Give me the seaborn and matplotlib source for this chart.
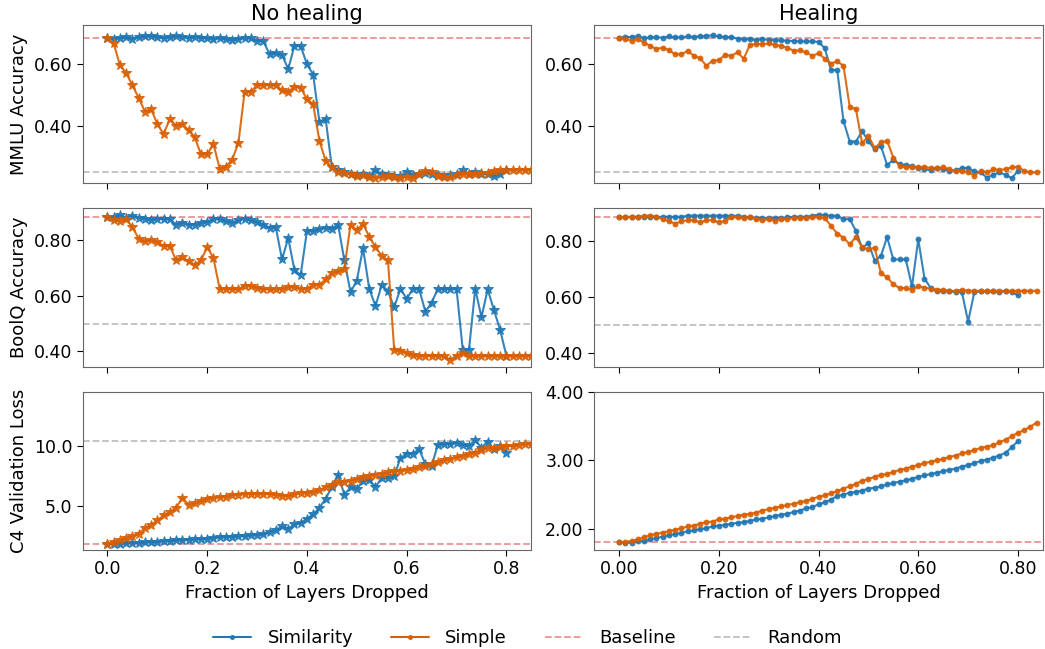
import numpy as np
import pandas as pd
import matplotlib
matplotlib.use("Agg")
import matplotlib.pyplot as plt
from matplotlib.lines import Line2D
import seaborn as sns

# ---------- data ----------
N_LAYERS = 80  # fraction = layers dropped / 80

mmlu_sim_noheal = [
    0.685, 0.683, 0.685, 0.688, 0.681, 0.688, 0.690, 0.690, 0.688, 0.684,
    0.689, 0.690, 0.688, 0.686, 0.688, 0.686, 0.684, 0.681, 0.684, 0.681,
    0.678, 0.681, 0.684, 0.684, 0.676, 0.675, 0.632, 0.636, 0.630, 0.584,
    0.660, 0.658, 0.600, 0.566, 0.413, 0.423, 0.265, 0.258, 0.251, 0.245,
    0.240, 0.245, 0.237, 0.256, 0.243, 0.239, 0.237, 0.237, 0.251, 0.240,
    0.243, 0.247, 0.243, 0.240, 0.237, 0.240, 0.243, 0.256, 0.243, 0.251,
    0.245, 0.243, 0.237, 0.243, 0.256,
]
mmlu_simple_noheal = [
    0.685, 0.667, 0.596, 0.571, 0.531, 0.491, 0.446, 0.454, 0.406, 0.373,
    0.422, 0.400, 0.406, 0.386, 0.363, 0.307, 0.307, 0.341, 0.261, 0.267,
    0.290, 0.344, 0.510, 0.510, 0.532, 0.532, 0.532, 0.532, 0.515, 0.510,
    0.527, 0.523, 0.486, 0.470, 0.352, 0.286, 0.265, 0.251, 0.248, 0.243,
    0.237, 0.240, 0.235, 0.232, 0.235, 0.237, 0.235, 0.232, 0.235, 0.232,
    0.243, 0.254, 0.251, 0.237, 0.235, 0.235, 0.240, 0.243, 0.243, 0.243,
    0.247, 0.247, 0.254, 0.256, 0.256, 0.256, 0.258, 0.256, 0.258,
]
mmlu_sim_heal = [
    0.686, 0.688, 0.688, 0.691, 0.684, 0.687, 0.687, 0.686, 0.690, 0.687,
    0.687, 0.690, 0.688, 0.690, 0.692, 0.693, 0.690, 0.688, 0.688, 0.683,
    0.680, 0.682, 0.678, 0.681, 0.679, 0.678, 0.677, 0.676, 0.675, 0.674,
    0.674, 0.674, 0.672, 0.652, 0.581, 0.581, 0.416, 0.349, 0.349, 0.382,
    0.351, 0.324, 0.335, 0.273, 0.289, 0.276, 0.272, 0.270, 0.263, 0.259,
    0.256, 0.263, 0.259, 0.254, 0.256, 0.263, 0.263, 0.252, 0.249, 0.232,
    0.241, 0.249, 0.241, 0.230, 0.254,
]
mmlu_simple_heal = [
    0.684, 0.681, 0.676, 0.681, 0.670, 0.659, 0.649, 0.654, 0.645, 0.632,
    0.632, 0.643, 0.627, 0.619, 0.595, 0.611, 0.613, 0.630, 0.627, 0.638,
    0.618, 0.663, 0.665, 0.665, 0.667, 0.663, 0.659, 0.654, 0.643, 0.645,
    0.638, 0.627, 0.635, 0.618, 0.602, 0.609, 0.595, 0.462, 0.454, 0.343,
    0.368, 0.328, 0.346, 0.351, 0.297, 0.270, 0.265, 0.267, 0.265, 0.267,
    0.263, 0.263, 0.265, 0.259, 0.254, 0.254, 0.249, 0.238, 0.254, 0.249,
    0.259, 0.257, 0.259, 0.265, 0.267, 0.254, 0.249, 0.249,
]

boolq_sim_noheal = [
    0.884, 0.884, 0.890, 0.881, 0.888, 0.881, 0.878, 0.872, 0.878, 0.876,
    0.876, 0.857, 0.864, 0.857, 0.857, 0.864, 0.866, 0.876, 0.876, 0.869,
    0.864, 0.872, 0.878, 0.872, 0.866, 0.857, 0.845, 0.848, 0.731, 0.808,
    0.692, 0.676, 0.833, 0.833, 0.840, 0.845, 0.842, 0.857, 0.728, 0.613,
    0.655, 0.772, 0.625, 0.563, 0.640, 0.616, 0.559, 0.625, 0.589, 0.625,
    0.625, 0.543, 0.575, 0.625, 0.625, 0.625, 0.625, 0.406, 0.406, 0.625,
    0.523, 0.623, 0.549, 0.477, 0.384,
]
boolq_simple_noheal = [
    0.884, 0.872, 0.869, 0.876, 0.848, 0.806, 0.796, 0.802, 0.794, 0.780,
    0.780, 0.728, 0.740, 0.724, 0.712, 0.728, 0.776, 0.736, 0.625, 0.625,
    0.625, 0.623, 0.637, 0.635, 0.628, 0.625, 0.623, 0.623, 0.625, 0.631,
    0.631, 0.625, 0.625, 0.640, 0.640, 0.659, 0.683, 0.688, 0.698, 0.857,
    0.836, 0.860, 0.812, 0.776, 0.743, 0.728, 0.406, 0.402, 0.394, 0.387,
    0.382, 0.384, 0.384, 0.382, 0.382, 0.370, 0.384, 0.394, 0.382, 0.382,
    0.382, 0.382, 0.382, 0.382, 0.382, 0.382, 0.382, 0.382, 0.382,
]
boolq_sim_heal = [
    0.884, 0.886, 0.886, 0.886, 0.886, 0.886, 0.886, 0.886, 0.886, 0.886,
    0.886, 0.890, 0.890, 0.890, 0.890, 0.890, 0.890, 0.890, 0.890, 0.890,
    0.886, 0.884, 0.882, 0.882, 0.882, 0.882, 0.882, 0.884, 0.886, 0.886,
    0.886, 0.890, 0.894, 0.892, 0.890, 0.890, 0.878, 0.878, 0.836, 0.774,
    0.794, 0.730, 0.746, 0.814, 0.734, 0.734, 0.734, 0.638, 0.806, 0.666,
    0.632, 0.620, 0.620, 0.620, 0.618, 0.618, 0.512, 0.618, 0.620, 0.620,
    0.620, 0.618, 0.620, 0.618, 0.606,
]
boolq_simple_heal = [
    0.884, 0.884, 0.886, 0.884, 0.890, 0.890, 0.886, 0.878, 0.870, 0.862,
    0.870, 0.874, 0.874, 0.866, 0.874, 0.874, 0.866, 0.872, 0.884, 0.884,
    0.882, 0.884, 0.878, 0.874, 0.878, 0.872, 0.878, 0.878, 0.882, 0.882,
    0.882, 0.884, 0.884, 0.882, 0.854, 0.826, 0.812, 0.788, 0.814, 0.778,
    0.770, 0.776, 0.686, 0.670, 0.646, 0.632, 0.632, 0.626, 0.638, 0.634,
    0.630, 0.626, 0.626, 0.622, 0.622, 0.626, 0.622, 0.622, 0.622, 0.622,
    0.622, 0.622, 0.622, 0.622, 0.622, 0.622, 0.622, 0.622,
]

c4_sim_noheal = [
    1.81, 1.81, 1.81, 1.86, 1.86, 1.89, 1.92, 1.94, 1.94, 2.00,
    2.03, 2.08, 2.08, 2.14, 2.17, 2.19, 2.22, 2.31, 2.33, 2.36,
    2.39, 2.42, 2.44, 2.50, 2.53, 2.58, 2.78, 2.92, 3.25, 3.06,
    3.42, 3.53, 3.89, 4.25, 4.81, 5.56, 6.58, 7.58, 5.92, 6.53,
    6.39, 7.08, 7.14, 6.58, 7.30, 7.30, 7.50, 8.97, 9.36, 9.36,
    9.72, 8.47, 8.33, 10.08, 10.14, 10.14, 10.25, 10.08, 10.00, 10.47,
    9.86, 10.36, 9.72, 10.00, 9.44,
]
c4_simple_noheal = [
    1.81, 1.94, 2.08, 2.31, 2.42, 2.64, 3.11, 3.39, 3.75, 4.17,
    4.44, 4.81, 5.64, 5.08, 5.19, 5.36, 5.56, 5.64, 5.69, 5.75,
    5.89, 5.92, 5.97, 5.97, 5.97, 5.97, 5.97, 5.92, 5.83, 5.83,
    5.97, 6.03, 6.03, 6.17, 6.31, 6.53, 6.75, 6.94, 7.00, 7.08,
    7.22, 7.42, 7.50, 7.58, 7.64, 7.78, 7.86, 7.92, 7.97, 8.08,
    8.19, 8.33, 8.47, 8.61, 8.81, 8.89, 9.03, 9.17, 9.31, 9.44,
    9.64, 9.81, 9.86, 9.92, 9.97, 10.00, 10.08, 10.14, 10.14,
]
c4_sim_heal = [
    1.81, 1.80, 1.80, 1.82, 1.83, 1.85, 1.87, 1.89, 1.91, 1.93,
    1.94, 1.97, 1.98, 2.00, 2.01, 2.04, 2.05, 2.06, 2.08, 2.09,
    2.10, 2.12, 2.14, 2.15, 2.17, 2.19, 2.21, 2.22, 2.25, 2.27,
    2.30, 2.32, 2.36, 2.39, 2.43, 2.48, 2.50, 2.53, 2.54, 2.56,
    2.59, 2.60, 2.62, 2.65, 2.67, 2.69, 2.71, 2.73, 2.76, 2.78,
    2.80, 2.82, 2.84, 2.86, 2.88, 2.91, 2.93, 2.96, 2.99, 3.01,
    3.04, 3.07, 3.11, 3.19, 3.28,
]
c4_simple_heal = [
    1.81, 1.81, 1.83, 1.85, 1.88, 1.91, 1.93, 1.95, 1.97, 1.99,
    2.01, 2.04, 2.05, 2.08, 2.10, 2.11, 2.14, 2.15, 2.17, 2.19,
    2.21, 2.22, 2.24, 2.27, 2.29, 2.31, 2.33, 2.35, 2.37, 2.39,
    2.41, 2.44, 2.47, 2.49, 2.52, 2.55, 2.59, 2.62, 2.66, 2.70,
    2.73, 2.76, 2.79, 2.80, 2.83, 2.86, 2.88, 2.91, 2.93, 2.96,
    2.98, 3.00, 3.02, 3.05, 3.07, 3.10, 3.12, 3.15, 3.18, 3.20,
    3.22, 3.26, 3.30, 3.35, 3.40, 3.44, 3.49, 3.55,
]

baseline = {"mmlu": 0.685, "boolq": 0.884, "c4": 1.81}
random_level = {"mmlu": 0.25, "boolq": 0.50, "c4": 10.37}

col_titles = ["No healing", "Healing"]
row_labels = ["MMLU Accuracy", "BoolQ Accuracy", "C4 Validation Loss"]
row_keys = ["mmlu", "boolq", "c4"]

panels = {
    ("mmlu", 0): (mmlu_sim_noheal, mmlu_simple_noheal),
    ("mmlu", 1): (mmlu_sim_heal, mmlu_simple_heal),
    ("boolq", 0): (boolq_sim_noheal, boolq_simple_noheal),
    ("boolq", 1): (boolq_sim_heal, boolq_simple_heal),
    ("c4", 0): (c4_sim_noheal, c4_simple_noheal),
    ("c4", 1): (c4_sim_heal, c4_simple_heal),
}

ylims = {
    ("mmlu", 0): (0.213, 0.726), ("mmlu", 1): (0.213, 0.726),
    ("boolq", 0): (0.345, 0.915), ("boolq", 1): (0.352, 0.916),
    ("c4", 0): (1.3, 14.55), ("c4", 1): (1.70, 4.0),
}
yticks = {
    ("mmlu", 0): [0.4, 0.6], ("mmlu", 1): [0.4, 0.6],
    ("boolq", 0): [0.4, 0.6, 0.8], ("boolq", 1): [0.4, 0.6, 0.8],
    ("c4", 0): [5.0, 10.0], ("c4", 1): [2.0, 3.0, 4.0],
}
yfmt = {
    ("mmlu", 0): "{:.2f}", ("mmlu", 1): "{:.2f}",
    ("boolq", 0): "{:.2f}", ("boolq", 1): "{:.2f}",
    ("c4", 0): "{:.1f}", ("c4", 1): "{:.2f}",
}

SIM_COLOR = "#1f77b4"
SIMPLE_COLOR = "#d95f02"
BASE_COLOR = "#eb9394"
RAND_COLOR = "#bfbfbf"

sns.set_style("ticks", {"axes.edgecolor": "0.4"})
plt.rcParams["font.family"] = ["DejaVu Sans"]
plt.rcParams["text.color"] = "black"
plt.rcParams["axes.labelcolor"] = "black"
plt.rcParams["xtick.color"] = "black"
plt.rcParams["ytick.color"] = "black"

fig, axes = plt.subplots(3, 2, figsize=(10.45, 6.49), dpi=100)
fig.subplots_adjust(left=0.079, right=0.998, top=0.961, bottom=0.153,
                    wspace=0.14, hspace=0.158)

for r, key in enumerate(row_keys):
    for c in range(2):
        ax = axes[r, c]
        sim_vals, simple_vals = panels[(key, c)]
        marker = "*" if c == 0 else "."
        ms = 7 if c == 0 else 7
        df_sim = pd.DataFrame({"x": np.arange(len(sim_vals)) / N_LAYERS, "y": sim_vals})
        df_simple = pd.DataFrame({"x": np.arange(len(simple_vals)) / N_LAYERS, "y": simple_vals})
        ax.axhline(baseline[key], color=BASE_COLOR, linestyle="--", linewidth=1.3, zorder=1)
        ax.axhline(random_level[key], color=RAND_COLOR, linestyle="--", linewidth=1.3, zorder=1)
        for df, col in [(df_sim, SIM_COLOR), (df_simple, SIMPLE_COLOR)]:
            sns.lineplot(data=df, x="x", y="y", ax=ax, color=col, marker=marker,
                         markersize=ms, markeredgecolor=col, markerfacecolor=col,
                         markeredgewidth=0.7, linewidth=1.5, alpha=0.9, zorder=3)
        ax.set_xlim(-0.05, 0.85)
        ax.set_ylim(*ylims[(key, c)])
        ax.set_xticks([0.0, 0.2, 0.4, 0.6, 0.8])
        ax.set_yticks(yticks[(key, c)])
        ax.set_yticklabels([yfmt[(key, c)].format(v) for v in yticks[(key, c)]])
        ax.tick_params(labelsize=12.5, length=4, width=0.8)
        if r == 2:
            if c == 0:
                ax.set_xticklabels(["0.0", "0.2", "0.4", "0.6", "0.8"])
            else:
                ax.set_xticklabels(["0.00", "0.20", "0.40", "0.60", "0.80"])
            ax.set_xlabel("Fraction of Layers Dropped", fontsize=13)
        else:
            ax.set_xticklabels([])
            ax.set_xlabel("")
        if c == 0:
            ax.set_ylabel(row_labels[r], fontsize=13)
        else:
            ax.set_ylabel("")
        if r == 0:
            ax.set_title(col_titles[c], fontsize=15, pad=4)

handles = [
    Line2D([], [], color=SIM_COLOR, marker=".", markersize=5, linewidth=1.5),
    Line2D([], [], color=SIMPLE_COLOR, marker=".", markersize=5, linewidth=1.5),
    Line2D([], [], color=BASE_COLOR, linestyle="--", linewidth=1.3),
    Line2D([], [], color=RAND_COLOR, linestyle="--", linewidth=1.3),
]
fig.legend(handles, ["Similarity", "Simple", "Baseline", "Random"], loc="lower center",
           bbox_to_anchor=(0.505, -0.022), ncol=4, frameon=False, fontsize=13,
           columnspacing=2.1, handlelength=2.1, handletextpad=0.9)

fig.savefig("out.png", dpi=100)
plt.close(fig)
